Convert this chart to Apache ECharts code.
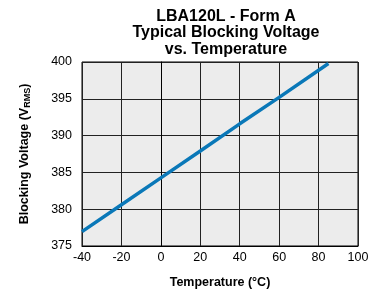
<!DOCTYPE html>
<html>
<head>
<meta charset="utf-8">
<script src="https://cdn.jsdelivr.net/npm/echarts@6/dist/echarts.min.js"></script>
<style>html,body{margin:0;padding:0;background:#fff}#c{width:372px;height:295px}</style>
</head>
<body>
<div id="c"></div>
<script>
const titleLines = ["LBA120L - Form A", "Typical Blocking Voltage", "vs. Temperature"];
const temperatures = [-40, -20, 0, 20, 40, 60, 85];
const blockingVoltage = [376.95, 380.6, 384.25, 387.9, 391.6, 395.2, 399.8];
const xTicks = {min: -40, max: 100, step: 20};
const yTicks = {min: 375, max: 400, step: 5};

const chart = echarts.init(document.getElementById('c'), null, {renderer: 'canvas'});
const font = 'Liberation Sans, Arial, sans-serif';
chart.setOption({
  animation: false,
  title: {
    text: titleLines.join('\n'),
    left: 221, top: 3, textAlign: 'center',
    textStyle: {fontFamily: font, fontWeight: 'bold', fontSize: 16, lineHeight: 16.5, color: '#000'}
  },
  grid: {left: 82, right: 14, top: 62, bottom: 49, show: true, backgroundColor: '#ececec', borderColor: '#000', borderWidth: 1},
  xAxis: {
    type: 'value', min: xTicks.min, max: xTicks.max, interval: xTicks.step,
    name: 'Temperature (°C)', nameLocation: 'middle', nameGap: 30,
    nameTextStyle: {fontFamily: font, fontWeight: 'bold', fontSize: 12.5, color: '#000'},
    axisLine: {show: true, lineStyle: {color: '#000'}},
    axisTick: {show: false},
    axisLabel: {fontFamily: font, fontSize: 12.5, color: '#000', margin: 5},
    splitLine: {show: true, lineStyle: {color: '#222', width: 1}}
  },
  yAxis: {
    type: 'value', min: yTicks.min, max: yTicks.max, interval: yTicks.step,
    name: '{a|Blocking Voltage (V}{s|RMS}{a|)}', nameLocation: 'middle', nameGap: 50, nameRotate: 90,
    nameTextStyle: {rich: {
      a: {fontFamily: font, fontWeight: 'bold', fontSize: 12.5, color: '#000'},
      s: {fontFamily: font, fontWeight: 'bold', fontSize: 9, color: '#000', verticalAlign: 'bottom', padding: [5,0,0,0]}
    }},
    axisLine: {show: true, lineStyle: {color: '#000'}},
    axisTick: {show: false},
    axisLabel: {fontFamily: font, fontSize: 12.5, color: '#000', margin: 10},
    splitLine: {show: true, lineStyle: {color: '#222', width: 1}}
  },
  series: [{
    type: 'line',
    data: temperatures.map((t, i) => [t, blockingVoltage[i]]),
    showSymbol: false,
    lineStyle: {color: '#0a78b8', width: 3.5},
    itemStyle: {color: '#0a78b8'}
  }]
});
</script>
</body>
</html>
